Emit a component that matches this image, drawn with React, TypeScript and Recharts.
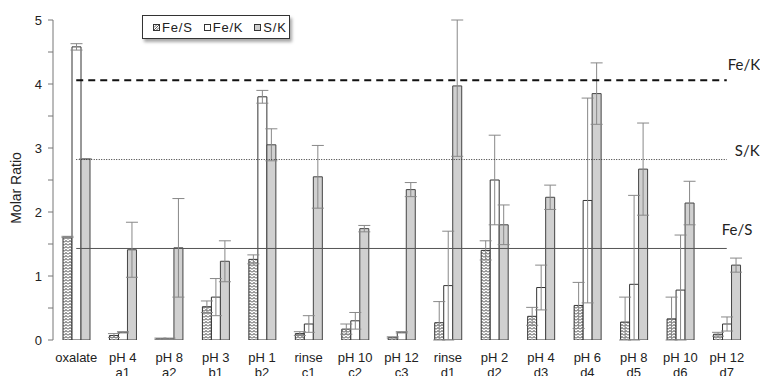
import React from 'react';
import {
  BarChart,
  Bar,
  XAxis,
  YAxis,
  ErrorBar,
  ReferenceLine,
} from 'recharts';

// Kategorien (zwei Zeilen pro Beschriftung)
const labelTop = ['oxalate', 'pH 4', 'pH 8', 'pH 3', 'pH 1', 'rinse', 'pH 10', 'pH 12', 'rinse', 'pH 2', 'pH 4', 'pH 6', 'pH 8', 'pH 10', 'pH 12'];
const labelBottom = ['', 'a1', 'a2', 'b1', 'b2', 'c1', 'c2', 'c3', 'd1', 'd2', 'd3', 'd4', 'd5', 'd6', 'd7'];

// Molverhältnisse und Fehler
const feS = [1.61, 0.07, 0.02, 0.52, 1.26, 0.1, 0.17, 0.04, 0.27, 1.4, 0.37, 0.54, 0.28, 0.33, 0.09];
const feSErr = [0.01, 0.03, 0.01, 0.09, 0.07, 0.03, 0.08, 0.01, 0.33, 0.15, 0.14, 0.36, 0.39, 0.34, 0.03];
const feK = [4.58, 0.12, 0.02, 0.67, 3.8, 0.25, 0.3, 0.12, 0.85, 2.5, 0.82, 2.18, 0.87, 0.78, 0.25];
const feKErr = [0.05, 0.01, 0.01, 0.29, 0.1, 0.13, 0.13, 0.01, 0.85, 0.7, 0.35, 1.6, 1.39, 0.86, 0.11];
const sK = [2.83, 1.41, 1.44, 1.23, 3.05, 2.55, 1.74, 2.35, 3.97, 1.8, 2.23, 3.85, 2.67, 2.14, 1.17];
const sKErr = [0, 0.43, 0.77, 0.32, 0.25, 0.49, 0.05, 0.11, 1.1, 0.31, 0.19, 0.48, 0.72, 0.34, 0.11];

// Referenzwerte
const FE_K_REF = 4.06;
const S_K_REF = 2.82;
const FE_S_REF = 1.43;

const Y_MAX = 5;
const yTicks = [0, 0.5, 1, 1.5, 2, 2.5, 3, 3.5, 4, 4.5, 5];

const categories = labelTop.map((t, i) => `${t} ${labelBottom[i]}`.trim());

// Fehlerbalken an der Achse abschneiden (wie im Original)
const clipErr = (v: number, e: number) => [Math.min(e, v), Math.min(e, Y_MAX - v)];

const data = categories.map((cat, i) => ({
  cat,
  feS: feS[i],
  feSErr: clipErr(feS[i], feSErr[i]),
  feK: feK[i],
  feKErr: clipErr(feK[i], feKErr[i]),
  sK: sK[i],
  sKErr: clipErr(sK[i], sKErr[i]),
}));

const FONT = '"Liberation Sans", Arial, sans-serif';
const LABEL_FONT = 'Lato, "Open Sans", sans-serif';

function CategoryTick(props: any) {
  const { x, y, index } = props;
  return (
    <g transform={`translate(${x},${y})`}>
      <text textAnchor="middle" fontSize={13} fill="#222" fontFamily={FONT}>
        <tspan x={0} dy={22}>{labelTop[index]}</tspan>
        <tspan x={0} dy={15}>{labelBottom[index]}</tspan>
      </text>
    </g>
  );
}

function refLabel(text: string, dx: number, dy: number) {
  return (props: any) => {
    const vb = props.viewBox || {};
    return (
      <text
        x={vb.x + vb.width + dx}
        y={vb.y + dy}
        fontSize={15}
        fill="#222"
        fontFamily={LABEL_FONT}
      >
        {text}
      </text>
    );
  };
}

function Swatch({ kind }: { kind: 'feS' | 'feK' | 'sK' }) {
  return (
    <svg width={7} height={7} style={{ marginRight: 2 }}>
      <rect
        x={0.5}
        y={0.5}
        width={6}
        height={6}
        fill={kind === 'sK' ? '#cfcfcf' : '#fff'}
        stroke="#333"
      />
      {kind === 'feS' && <path d="M1 6 L6 1 M1 3.5 L3.5 1 M3.5 6 L6 3.5" stroke="#333" strokeWidth={0.8} />}
    </svg>
  );
}

function LegendBox() {
  const item = (kind: 'feS' | 'feK' | 'sK', text: string) => (
    <span style={{ display: 'flex', alignItems: 'center', marginRight: 11 }}>
      <Swatch kind={kind} />
      <span>{text}</span>
    </span>
  );
  return (
    <div
      style={{
        position: 'absolute',
        left: 142,
        top: 15,
        height: 24,
        width: 148,
        boxSizing: 'border-box',
        border: '1px solid #333',
        background: '#fff',
        boxShadow: '2px 3px 3px rgba(0,0,0,0.35)',
        display: 'flex',
        alignItems: 'center',
        paddingLeft: 10,
        fontFamily: FONT,
        fontSize: 13,
        letterSpacing: 0.8,
        color: '#222',
      }}
    >
      {item('feS', 'Fe/S')}
      {item('feK', 'Fe/K')}
      {item('sK', 'S/K')}
    </div>
  );
}

export default function App() {
  return (
    <div style={{ position: 'absolute', left: 0, top: 0, width: 760, height: 376, background: '#fff', overflow: 'hidden' }}>
      <BarChart
        width={760}
        height={376}
        data={data}
        margin={{ top: 20, right: 10, bottom: 0, left: 0 }}
        barSize={9}
        barGap={0}
      >
        <defs>
          <pattern id="zigzag" width={4} height={3} patternUnits="userSpaceOnUse">
            <rect width={4} height={3} fill="#fff" />
            <path d="M0 2.5 L2 0.5 L4 2.5" fill="none" stroke="#1a1a1a" strokeWidth={0.9} />
          </pattern>
        </defs>
        <XAxis
          dataKey="cat"
          height={36}
          axisLine={false}
          tickLine={false}
          tickSize={0}
          tickMargin={0}
          interval={0}
          tick={<CategoryTick />}
        />
        <YAxis
          width={53}
          domain={[0, Y_MAX]}
          allowDataOverflow
          ticks={yTicks}
          tickFormatter={(v: number) => (Number.isInteger(v) ? String(v) : '')}
          tickSize={5}
          tickMargin={6}
          stroke="#777"
          tick={{ fill: '#222', fontSize: 13, fontFamily: FONT }}
          label={(props: any) => {
            const vb = props.viewBox || {};
            const cx = 21;
            const cy = vb.y + vb.height / 2 + 8;
            return (
              <text
                x={cx}
                y={cy}
                transform={`rotate(-90, ${cx}, ${cy})`}
                textAnchor="middle"
                fontSize={14}
                fill="#222"
                fontFamily={FONT}
              >
                Molar Ratio
              </text>
            );
          }}
        />
        <ReferenceLine
          segment={[{ x: categories[0], y: FE_S_REF }, { x: categories[14], y: FE_S_REF }]}
          stroke="#555"
          strokeWidth={1}
          label={refLabel('Fe/S', -5, -13)}
        />
        <Bar dataKey="feS" fill="url(#zigzag)" stroke="#333" strokeWidth={1} isAnimationActive={false}>
          <ErrorBar dataKey="feSErr" width={6} stroke="#888" strokeWidth={1} isAnimationActive={false} />
        </Bar>
        <Bar dataKey="feK" fill="#fff" stroke="#333" strokeWidth={1} isAnimationActive={false}>
          <ErrorBar dataKey="feKErr" width={6} stroke="#888" strokeWidth={1} isAnimationActive={false} />
        </Bar>
        <Bar dataKey="sK" fill="#d0d0d0" stroke="#444" strokeWidth={1} isAnimationActive={false}>
          <ErrorBar dataKey="sKErr" width={6} stroke="#888" strokeWidth={1} isAnimationActive={false} />
        </Bar>
        <ReferenceLine
          segment={[{ x: categories[0], y: FE_K_REF }, { x: categories[14], y: FE_K_REF }]}
          stroke="#111"
          strokeWidth={2}
          strokeDasharray="7 5"
          label={refLabel('Fe/K', 1, -10)}
        />
        <ReferenceLine
          segment={[{ x: categories[0], y: S_K_REF }, { x: categories[14], y: S_K_REF }]}
          stroke="#333"
          strokeWidth={1}
          strokeDasharray="1 1.5"
          label={refLabel('S/K', 8, -4)}
        />
      </BarChart>
      <LegendBox />
    </div>
  );
}
